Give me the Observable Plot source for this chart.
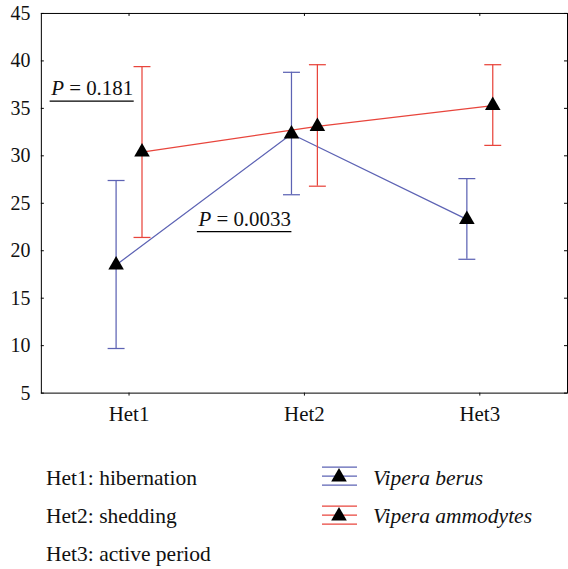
<!DOCTYPE html>
<html><head><meta charset="utf-8">
<script src="https://cdn.jsdelivr.net/npm/d3@7"></script>
<script src="https://cdn.jsdelivr.net/npm/@observablehq/plot@0.6"></script>
<style>
body{margin:0;background:#fff;}
#wrap{position:relative;width:568px;height:569px;overflow:hidden;font-family:"Liberation Serif","Times New Roman",serif;color:#111;}
.lg{position:absolute;font-size:21.5px;line-height:22px;white-space:nowrap;}
.sym{position:absolute;}
</style></head><body><div id="wrap"></div>
<script>
const periods = ["Het1", "Het2", "Het3"];
const berusMean = [18.5, 32.3, 23.3];
const berusLow = [9.7, 25.9, 19.1];
const berusHigh = [27.4, 38.8, 27.6];
const ammoMean = [30.4, 33.1, 35.3];
const ammoLow = [21.4, 26.8, 31.1];
const ammoHigh = [39.4, 39.6, 39.6];
const yTicks = [5, 10, 15, 20, 25, 30, 35, 40, 45];
const periodNotes = ["Het1: hibernation", "Het2: shedding", "Het3: active period"];
const speciesNames = ["Vipera berus", "Vipera ammodytes"];
const speciesColors = ["#5d63b4", "#e8453c"];
const pNotes = [{period: "Het1", y: 36.4, p: "0.181"}, {period: "Het2", y: 22.64, p: "0.0033"}];

const series = [
  {name: speciesNames[0], color: speciesColors[0], dx: -13,
   rows: periods.map((p, i) => ({period: p, mean: berusMean[i], low: berusLow[i], high: berusHigh[i]}))},
  {name: speciesNames[1], color: speciesColors[1], dx: 13,
   rows: periods.map((p, i) => ({period: p, mean: ammoMean[i], low: ammoLow[i], high: ammoHigh[i]}))}
];

const capSymbol = {draw(ctx) { ctx.moveTo(-8.5, 0); ctx.lineTo(8.5, 0); }};

const W = 570, H = 440, mL = 41, mR = 1, mT = 13, mB = 46;
const fw = W - mL - mR, fh = H - mT - mB;
const triR = 5.8;

const marks = [];
for (const s of series) {
  marks.push(Plot.line(s.rows, {x: "period", y: "mean", stroke: s.color, strokeWidth: 1.25, dx: s.dx}));
  marks.push(Plot.ruleX(s.rows, {x: "period", y1: "low", y2: "high", stroke: s.color, strokeWidth: 1.25, dx: s.dx}));
  marks.push(Plot.dot(s.rows, {x: "period", y: "high", symbol: capSymbol, stroke: s.color, strokeWidth: 1.25, fill: "none", dx: s.dx}));
  marks.push(Plot.dot(s.rows, {x: "period", y: "low", symbol: capSymbol, stroke: s.color, strokeWidth: 1.25, fill: "none", dx: s.dx}));
}
for (const s of series) {
  marks.push(Plot.dot(s.rows, {x: "period", y: "mean", symbol: "triangle", r: triR, fill: "black", stroke: "none", dx: s.dx}));
}

const chart = Plot.plot({
  width: W, height: H,
  marginLeft: mL, marginRight: mR, marginTop: mT, marginBottom: mB,
  style: {fontFamily: "'Liberation Serif', 'Times New Roman', serif", fontSize: "20px", color: "#111", background: "white"},
  x: {type: "point", domain: periods, padding: 0.5, axis: null},
  y: {domain: [5, 45], axis: null},
  marks: [
    Plot.frame({stroke: "black", strokeWidth: 1}),
    Plot.axisY(yTicks, {tickSize: 0, tickPadding: 11, label: null, fontSize: 20}),
    Plot.tickY(yTicks, {y: d => d, insetRight: fw - 3, stroke: "black"}),
    Plot.tickY(yTicks, {y: d => d, insetLeft: fw - 3, stroke: "black"}),
    Plot.tickX(periods, {x: d => d, insetBottom: fh - 3, stroke: "black"}),
    Plot.axisX(periods, {tickSize: 3, tickPadding: 10, label: null, fontSize: 21}),
    ...marks,
    Plot.text(pNotes, {x: "period", y: "y", text: d => "P = " + d.p, lineAnchor: "bottom",
      textAnchor: "middle", fontSize: 21})
  ]
});

const wrap = document.getElementById("wrap");
chart.style.position = "absolute";
chart.style.left = "0px";
chart.style.top = "0px";
wrap.appendChild(chart);

// annotation offsets, italic P and underline
const pdx = [-37, -60];
d3.select(chart).selectAll("g[aria-label=text] text").each(function(d, i) {
  const t = d3.select(this);
  t.text(null);
  t.attr("dx", pdx[i]);
  t.append("tspan").attr("font-style", "italic").text("P");
  t.append("tspan").text(" = " + pNotes[i].p);
  const bb = this.getBBox();
  const yBase = bb.y + bb.height - 21 * 0.216;
  d3.select(this.parentNode).append("line")
    .attr("transform", t.attr("transform"))
    .attr("x1", bb.x - 0.5).attr("x2", bb.x + bb.width + 0.5)
    .attr("y1", yBase + 5.5).attr("y2", yBase + 5.5)
    .attr("stroke", "black").attr("stroke-width", 1.2);
});

// legend below the chart
const baselines = [485, 523, 561];
const topOf = b => b - 18.3;
periodNotes.forEach((t, i) => {
  const d = document.createElement("div");
  d.className = "lg";
  d.style.left = "46px";
  d.style.top = topOf(baselines[i]) + "px";
  d.textContent = t;
  wrap.appendChild(d);
});
speciesNames.forEach((name, i) => {
  const cy = 476 + i * 38.5;
  const svg = d3.create("svg").attr("class", "sym").attr("width", 40).attr("height", 30)
    .style("left", "320px").style("top", (cy - 15) + "px");
  for (const off of [-9, 0, 9]) {
    svg.append("line").attr("x1", 2).attr("x2", 37).attr("y1", 15 + off).attr("y2", 15 + off)
      .attr("stroke", speciesColors[i]).attr("stroke-width", 1.25);
  }
  svg.append("path").attr("d", d3.symbol(d3.symbolTriangle, triR * triR * Math.PI)())
    .attr("transform", "translate(19,16)").attr("fill", "black");
  wrap.appendChild(svg.node());
  const d = document.createElement("div");
  d.className = "lg";
  d.style.left = "373px";
  d.style.top = topOf(baselines[i]) + "px";
  d.style.fontStyle = "italic";
  d.textContent = name;
  wrap.appendChild(d);
});
</script></body></html>
